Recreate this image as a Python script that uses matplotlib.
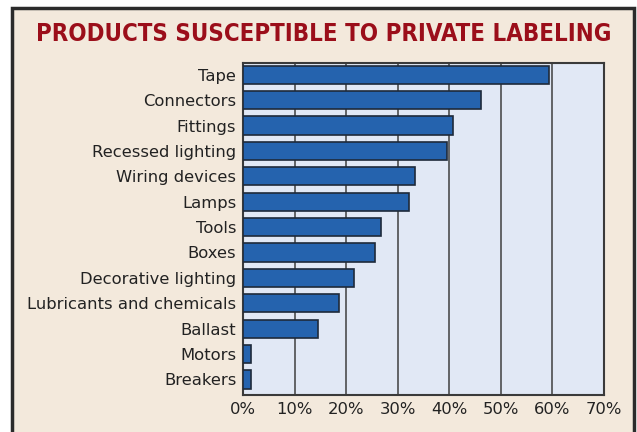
import matplotlib.pyplot as plt
from matplotlib.patches import Rectangle

categories = ['Tape', 'Connectors', 'Fittings', 'Recessed lighting', 'Wiring devices',
              'Lamps', 'Tools', 'Boxes', 'Decorative lighting',
              'Lubricants and chemicals', 'Ballast', 'Motors', 'Breakers']
values = [59.4, 46.1, 40.6, 39.5, 33.4, 32.2, 26.8, 25.6, 21.4, 18.6, 14.4, 1.5, 1.5]
xticks = [0, 10, 20, 30, 40, 50, 60, 70]

bg = '#f3e9dc'
fig = plt.figure(figsize=(6.37, 4.32), dpi=100, facecolor='white')

# outer panel with dark border
fig.patches.append(Rectangle((12 / 637, -0.05), 622 / 637, 1 - 8 / 432 + 0.05,
                             transform=fig.transFigure, facecolor=bg,
                             edgecolor='#2b2b2b', linewidth=2.5, zorder=-10))

fig.text(0.508, 1 - 34 / 432, 'PRODUCTS SUSCEPTIBLE TO PRIVATE LABELING',
         ha='center', va='center', color='#9b0e1a', fontsize=17.2,
         fontweight='bold', fontstretch='condensed', family='DejaVu Sans')

ax = fig.add_axes([243.3 / 637, 1 - 394.7 / 432, (604 - 243.3) / 637, (394.7 - 63.3) / 432])
ax.set_facecolor('#e1e8f5')

ypos = list(range(len(categories)))
ax.barh(ypos, values, height=0.72, color='#2563ae', edgecolor='#1e2a3a',
        linewidth=1.2, zorder=3)

ax.set_xlim(0, 70)
ax.set_ylim(12.6, -0.45)
ax.set_yticks(ypos)
ax.set_yticklabels(categories, fontsize=11.8, color='#222222')
ax.set_xticks(xticks)
ax.set_xticklabels([f'{t}%' for t in xticks], fontsize=11.8, color='#222222')
ax.tick_params(length=0, pad=5)
ax.grid(axis='x', color='#3f3f3f', linewidth=1.1, zorder=1)
for s in ax.spines.values():
    s.set_color('#3a3a3a')
    s.set_linewidth(1.5)

fig.savefig('out.png', dpi=100, facecolor='white')
